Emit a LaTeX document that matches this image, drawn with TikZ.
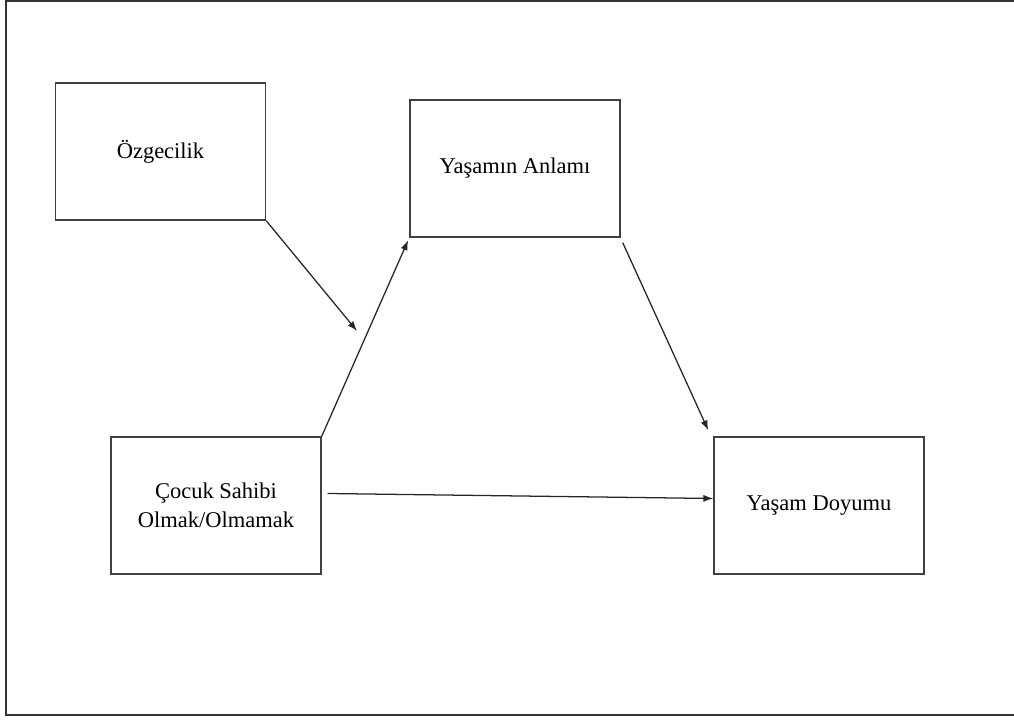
\documentclass[tikz,border=0pt]{standalone}
\usepackage{fontspec}
\setmainfont{Liberation Serif}
\usetikzlibrary{arrows.meta}
\tikzset{kutu/.style = {draw=black!75, line width=1pt, minimum width=5.25cm,
                        minimum height=3.425cm, align=center,
                        font=\fontsize{16}{20.5}\selectfont},
         ok/.style = {-{Latex[length=7pt, width=5pt]}, black!85, line width=0.9pt}}
\begin{document}
\begin{tikzpicture}[x=0.025cm, y=-0.025cm]
    \useasboundingbox (0, 0) rectangle (1014, 720);
    \draw [line width=1.5pt, black!80] (1014, 1) -- (6, 1) -- (6, 715) -- (1014, 715);
    \node [kutu] (ozg) at (160.5, 151.5) {Özgecilik};
    \node [kutu] (anlam) at (515, 168.5) {Yaşamın Anlamı};
    \node [kutu] (cocuk) at (216, 505.5) {Çocuk Sahibi\\Olmak/Olmamak};
    \node [kutu] (doyum) at (819, 505.5) {Yaşam Doyumu};
    \coordinate (mod) at (357, 331);
    \draw [ok] (ozg.south east) -- (mod);
    \draw [ok, shorten >=2pt] (cocuk.north east) -- (anlam.south west);
    \draw [ok] ([shift={(2, 5)}]anlam.south east) -- ([shift={(-5, -6)}]doyum.north west);
    \draw [ok] ([shift={(6, -12)}]cocuk.east) -- ([shift={(0, -7)}]doyum.west);
\end{tikzpicture}
\end{document}
